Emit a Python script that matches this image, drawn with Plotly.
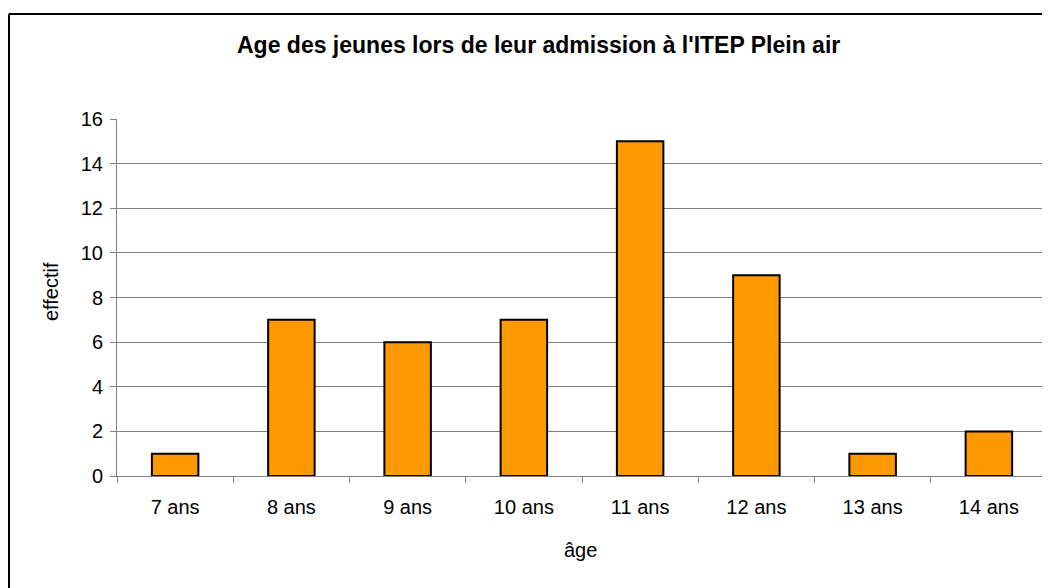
import plotly.graph_objects as go

categories = ["7 ans", "8 ans", "9 ans", "10 ans", "11 ans", "12 ans", "13 ans", "14 ans"]
effectif = [1, 7, 6, 7, 15, 9, 1, 2]
y_ticks = [0, 2, 4, 6, 8, 10, 12, 14, 16]

title_text = "Age des jeunes lors de leur admission à l'ITEP Plein air"
x_title = "âge"
y_title = "effectif"

FONT = "Liberation Sans, Arial, sans-serif"

# page body offset (default 8px margin) compensation
OFF = 8
W, H = 1050, 588
L = 117 - OFF
T = 119 - OFF
B = H - (476 - OFF)
R = W - (1047 - OFF)
pw, ph = W - L - R, H - T - B

def px_x(x):
    return (x - OFF - L) / pw

def px_y(y):
    return (H - B - (y - OFF)) / ph

fig = go.Figure()
fig.add_trace(go.Bar(
    x=categories, y=effectif,
    marker=dict(color="#FF9900", line=dict(color="#000000", width=2)),
    width=0.4,
))

fig.update_layout(
    width=W, height=H,
    margin=dict(l=L, r=R, t=T, b=B),
    paper_bgcolor="white", plot_bgcolor="white",
    showlegend=False,
    font=dict(family=FONT, color="black", size=20),
    xaxis=dict(
        type="category", tickson="boundaries", ticks="outside", ticklen=6,
        tickcolor="#808080", showline=True, linecolor="#808080", linewidth=1,
        showgrid=False, tickfont=dict(size=20), range=[-0.5, 7.5],
        ticklabelstandoff=13,
    ),
    yaxis=dict(
        range=[0, 16], tickvals=y_ticks, ticks="outside", ticklen=6,
        tickcolor="#808080", showline=True, linecolor="#808080", linewidth=1,
        showgrid=True, gridcolor="#808080", gridwidth=1, zeroline=False,
        tickfont=dict(size=20), ticklabelstandoff=3,
    ),
    annotations=[
        dict(text=f"<b>{title_text}</b>", x=px_x(538), y=px_y(45), xref="paper", yref="paper",
             showarrow=False, font=dict(size=23, family=FONT), xanchor="center", yanchor="middle"),
        dict(text=x_title, x=px_x(580), y=px_y(550), xref="paper", yref="paper",
             showarrow=False, font=dict(size=20, family=FONT), xanchor="center", yanchor="middle"),
        dict(text=y_title, x=px_x(51), y=px_y(292), xref="paper", yref="paper", textangle=-90,
             showarrow=False, font=dict(size=20, family=FONT), xanchor="center", yanchor="middle"),
    ],
    shapes=[
        dict(type="line", xref="paper", yref="paper", x0=px_x(9), x1=px_x(1070), y0=px_y(14), y1=px_y(14),
             line=dict(color="black", width=2)),
        dict(type="line", xref="paper", yref="paper", x0=px_x(9), x1=px_x(9), y0=px_y(14), y1=px_y(620),
             line=dict(color="black", width=2)),
    ],
)

fig.write_html("out.html")
